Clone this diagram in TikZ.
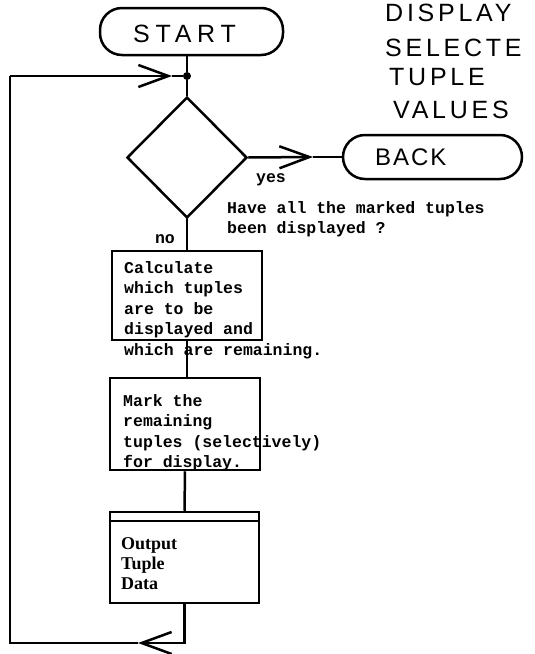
\documentclass[tikz,border=0pt]{standalone}
\usepackage{fontspec}
\setmainfont{Liberation Serif}
\newfontfamily\monob{Liberation Mono}
\newfontfamily\titlef[LetterSpace=15]{Liberation Sans}
\newfontfamily\titlew[LetterSpace=23]{Liberation Sans}
\newfontfamily\titlen[LetterSpace=8]{Liberation Sans}
\usetikzlibrary{shapes.geometric,arrows.meta}
\begin{document}
\begin{tikzpicture}[x=1pt,y=-1pt,
  ln/.style={line width=2.5pt},
  term/.style={draw,line width=2.5pt,rounded corners=22pt,inner sep=0pt},
  proc/.style={draw,line width=2.5pt,inner sep=0pt},
  body/.style={font=\monob\bfseries\fontsize{16.5}{20.5}\selectfont, align=left, inner sep=0pt, anchor=north west},
  serifb/.style={font=\bfseries\fontsize{18}{20}\selectfont, align=left, inner sep=0pt, anchor=north west},
  barb/.style={-{Straight Barb[length=30pt,width=22pt,line width=2.5pt]}},
  ttl/.style={font=\titlef\fontsize{25}{30}\selectfont, inner sep=0pt, anchor=base west}]
\useasboundingbox (0,0) rectangle (535,654);

% terminators
\node[term, minimum width=183pt, minimum height=47pt] (start) at (191.5,31.5) {};
\node[ttl, font=\titlew\fontsize{25}{30}\selectfont] (startt) at (133,42) {START};
\node[term, minimum width=179pt, minimum height=44pt] (back) at (432.5,157) {};
\node[ttl, font=\titlen\fontsize{24}{30}\selectfont] (backt) at (375,165) {BACK};

% title
\node[ttl] (ti1) at (385,21) {DISPLAY};
\node[ttl] (ti2) at (385,56) {SELECTE};
\node[ttl] (ti3) at (389,85) {TUPLE};
\node[ttl] (ti4) at (393,118) {VALUES};

% junction and decision
\node[circle, fill, inner sep=0pt, minimum size=8pt] (dot) at (187,76) {};
\node[diamond, draw, ln, minimum width=120pt, minimum height=121pt, inner sep=0pt] (dec) at (187,157.5) {};

% process boxes
\node[proc, minimum width=150pt, minimum height=89pt] (b1) at (187,295.5) {};
\node[proc, minimum width=150pt, minimum height=92pt] (b2) at (185,424) {};
\node[proc, minimum width=149pt, minimum height=91pt] (b3) at (184.5,557.5) {};
\draw[ln] ([yshift=-10pt]b3.north west) -- ([yshift=-10pt]b3.north east);

% texts
\node[body, anchor=base] (yes) at (271,182) {yes};
\node[body, anchor=base] (no) at (165,243) {no};
\node[body] (q) at (227,201) {Have all the marked tuples\\been displayed ?};
\node[body] (t1) at (124,261) {Calculate\\which tuples\\are to be\\displayed and\\which are remaining.};
\node[body] (t2) at (123,394) {Mark the\\remaining\\tuples (selectively)\\for display.};
\node[serifb] (t3) at (121,537) {Output\\Tuple\\Data};

% connectors
\coordinate (tipY) at (313,157);
\coordinate (tipB) at (138,643);
\coordinate (lb) at (10,643);
\coordinate (lt) at (10,76);
\coordinate (tipT) at (172,76);

\draw[ln] (dot |- start.south) -- (dot);
\draw[ln] (dot) -- (dec.north);
\draw[ln,barb] (dec.east) -- (tipY);
\draw[ln] (tipY) -- (back.west);
\draw[ln] (dec.south) -- (b1.north);
\draw[ln] (b1.south) -- (b1.south |- b2.north);
\draw[ln] (b2.south) -- (b3.north);
\draw[ln,barb] (b3.south) |- (tipB);
\draw[ln] (tipB) -- (lb) -- (lt);
\draw[ln,barb] (lt) -- (tipT);
\draw[ln] (tipT) -- (dot);
\end{tikzpicture}
\end{document}
